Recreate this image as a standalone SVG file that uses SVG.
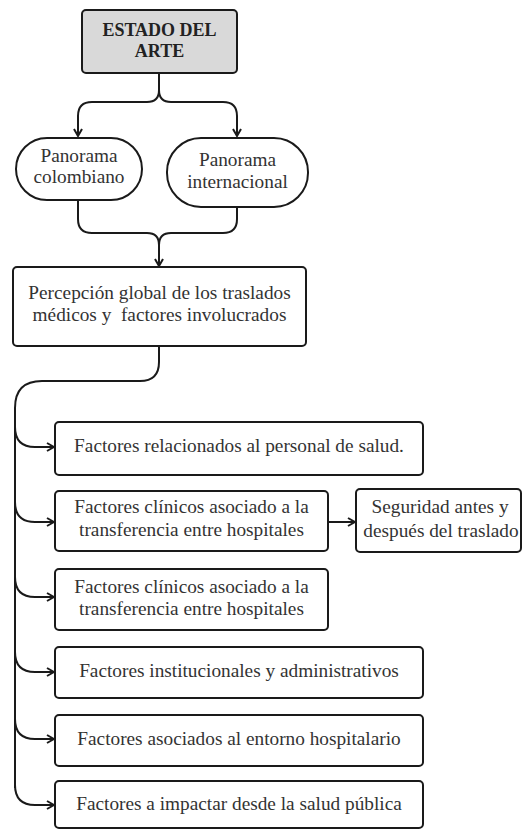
<svg xmlns="http://www.w3.org/2000/svg" width="522" height="830" viewBox="0 0 522 830">
<style>
.box{fill:#fff;stroke:#1a1a1a;stroke-width:2}
.title{fill:#d9d9d9;stroke:#1a1a1a;stroke-width:2}
text{font-family:'Liberation Serif','DejaVu Serif',serif}
.t{font-size:19.3px;fill:#333;text-anchor:middle}
.tb{font-size:18px;font-weight:bold;fill:#222;text-anchor:middle}
.c{fill:none;stroke:#1a1a1a;stroke-width:2}
</style>
<defs>
<marker id="ar" viewBox="0 0 10 10" refX="9" refY="5" markerWidth="10" markerHeight="10" markerUnits="userSpaceOnUse" orient="auto">
<path d="M2,1 L9,5 L2,9" fill="none" stroke="#1a1a1a" stroke-width="2"/>
</marker>
</defs>
<rect width="522" height="830" fill="#fff"/>
<g id="connectors">
<path class="c" d="M159,74 V90 Q159,102 147,102 H92 Q78,102 78,116 V136" marker-end="url(#ar)"/>
<path class="c" d="M159,90 Q159,102 171,102 H223 Q237,102 237,116 V136" marker-end="url(#ar)"/>
<path class="c" d="M78,200 V219 Q78,233 92,233 H147 Q159,233 159,245 V266" marker-end="url(#ar)"/>
<path class="c" d="M237,207 V219 Q237,233 223,233 H171 Q159,233 159,245"/>
<path class="c" d="M159,346 V362 Q159,381 140,381 H42 Q15,381 15,408 V788"/>
<path class="c" d="M15,427 Q15,447 35,447 H54" marker-end="url(#ar)"/>
<path class="c" d="M15,502 Q15,522 35,522 H54" marker-end="url(#ar)"/>
<path class="c" d="M15,577 Q15,597 35,597 H54" marker-end="url(#ar)"/>
<path class="c" d="M15,652 Q15,672 35,672 H54" marker-end="url(#ar)"/>
<path class="c" d="M15,719 Q15,739 35,739 H54" marker-end="url(#ar)"/>
<path class="c" d="M15,785 Q15,805 35,805 H54" marker-end="url(#ar)"/>
<path class="c" d="M328,522 H355" marker-end="url(#ar)"/>
</g>
<g id="estado">
<rect class="title" x="82" y="10" width="155" height="63" rx="4"/>
<text class="tb" x="159.5" y="36">ESTADO DEL</text>
<text class="tb" x="159.5" y="57">ARTE</text>
</g>
<g id="colombiano">
<rect class="box" x="16" y="138" width="126" height="62" rx="31"/>
<text class="t" x="79" y="162">Panorama</text>
<text class="t" x="79" y="183">colombiano</text>
</g>
<g id="internacional">
<rect class="box" x="167" y="138" width="141" height="69" rx="34"/>
<text class="t" x="237.5" y="166">Panorama</text>
<text class="t" x="237.5" y="188">internacional</text>
</g>
<g id="percepcion">
<rect class="box" x="13" y="267" width="293" height="79" rx="4"/>
<text class="t" x="159.5" y="299">Percepción global de los traslados</text>
<text class="t" x="159.5" y="321" xml:space="preserve">médicos y  factores involucrados</text>
</g>
<g id="f1">
<rect class="box" x="55" y="422" width="368" height="53" rx="4"/>
<text class="t" x="239" y="452">Factores relacionados al personal de salud.</text>
</g>
<g id="f2">
<rect class="box" x="55" y="491" width="273" height="60" rx="4"/>
<text class="t" x="191.5" y="513">Factores clínicos asociado a la</text>
<text class="t" x="191.5" y="536">transferencia entre hospitales</text>
</g>
<g id="seguridad">
<rect class="box" x="356" y="489" width="165" height="63" rx="4"/>
<text class="t" x="440" y="513">Seguridad antes y</text>
<text class="t" x="441" y="537">después del traslado</text>
</g>
<g id="f3">
<rect class="box" x="55" y="569" width="273" height="61" rx="4"/>
<text class="t" x="191.5" y="593">Factores clínicos asociado a la</text>
<text class="t" x="191.5" y="615">transferencia entre hospitales</text>
</g>
<g id="f4">
<rect class="box" x="55" y="647" width="368" height="51" rx="4"/>
<text class="t" x="239" y="677">Factores institucionales y administrativos</text>
</g>
<g id="f5">
<rect class="box" x="55" y="715" width="368" height="51" rx="4"/>
<text class="t" x="239" y="745">Factores asociados al entorno hospitalario</text>
</g>
<g id="f6">
<rect class="box" x="55" y="781" width="368" height="47" rx="4"/>
<text class="t" x="239" y="810">Factores a impactar desde la salud pública</text>
</g>
</svg>
